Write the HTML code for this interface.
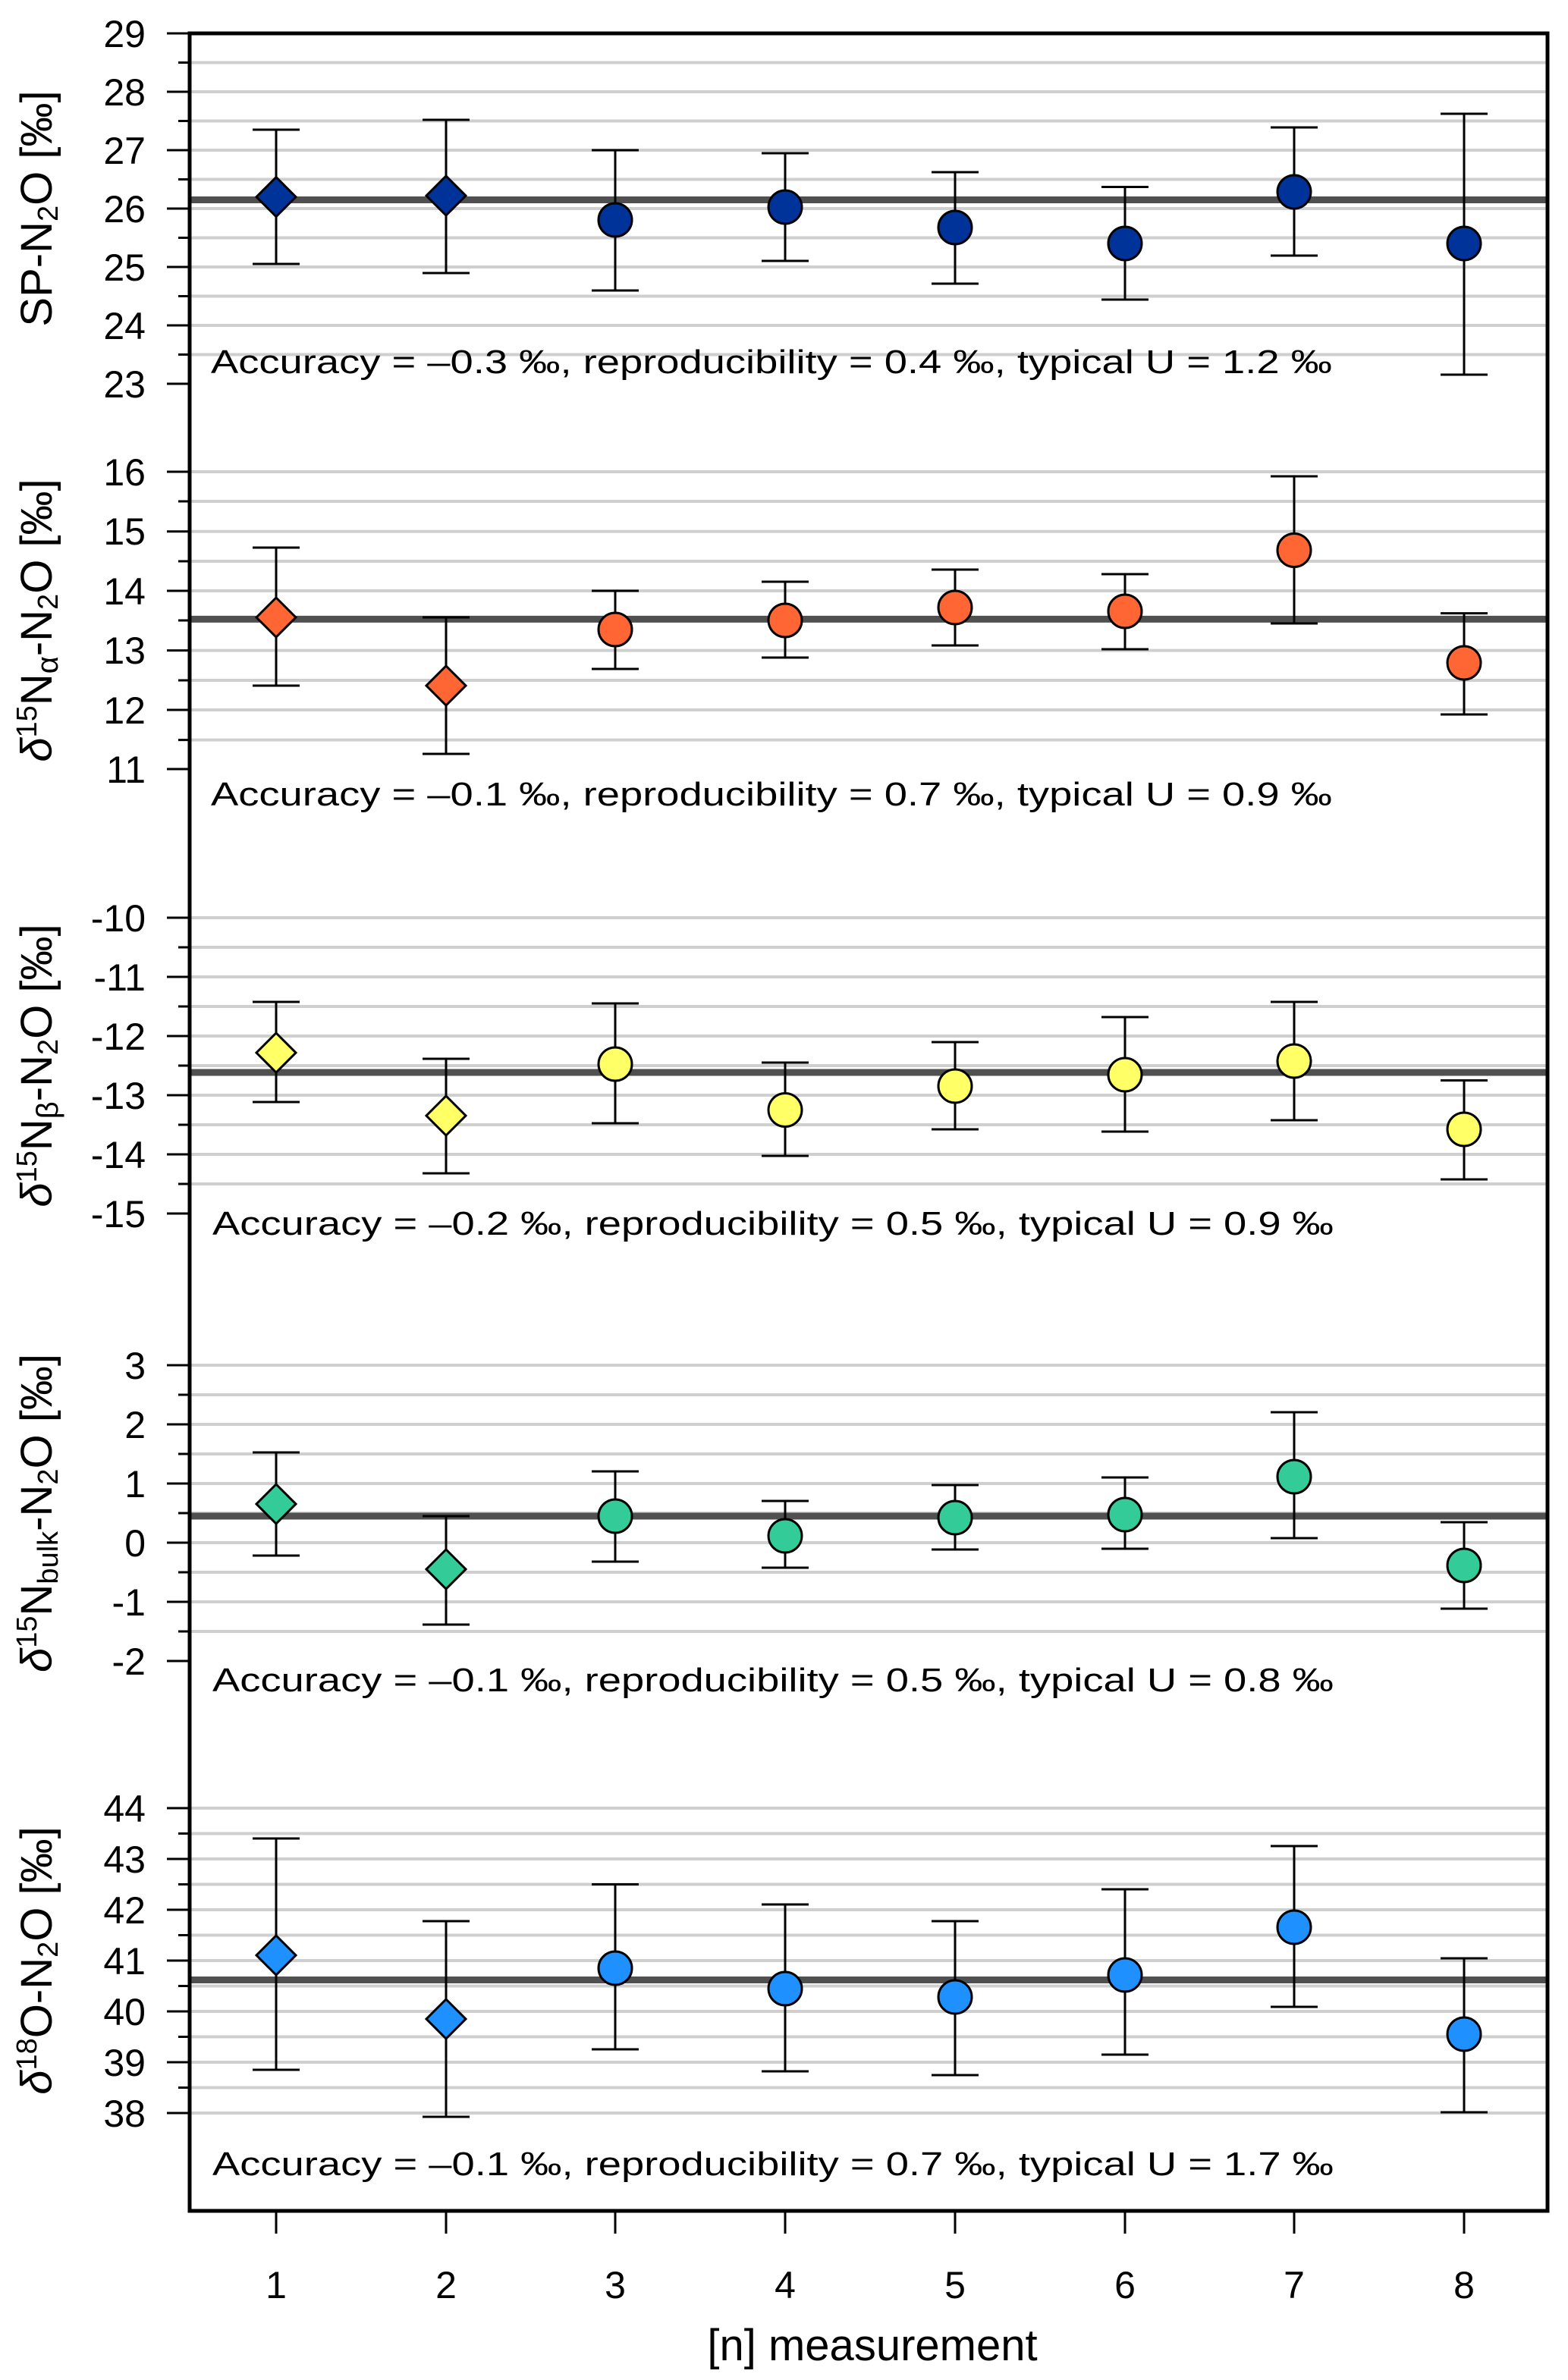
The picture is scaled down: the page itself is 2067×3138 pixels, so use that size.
<!DOCTYPE html>
<html><head><meta charset="utf-8"><style>
html,body{margin:0;padding:0;background:#fff}
svg{display:block}
text{font-family:"Liberation Sans",sans-serif;fill:#000}
.t{font-size:50px;text-anchor:end}
.x{font-size:50px;text-anchor:middle}
.a{font-size:44px}
.ti{font-size:58px;text-anchor:middle}
.g{stroke:#cfcfcf;stroke-width:4}
.m{stroke:#505050;stroke-width:9}
.e{stroke:#000;stroke-width:3;fill:none}
.k{stroke:#000;stroke-width:3}
</style></head><body>
<svg width="2067" height="3138" viewBox="0 0 2067 3138" xmlns="http://www.w3.org/2000/svg">
<g class="g">
<path d="M250 82.5H2040M250 121H2040M250 159.5H2040M250 198H2040M250 236.5H2040M250 275H2040M250 313.5H2040M250 352H2040M250 390.5H2040M250 429H2040M250 467.5H2040"/>
<path d="M250 622H2040M250 661H2040M250 700.8H2040M250 740H2040M250 779H2040M250 818H2040M250 857.6H2040M250 897H2040M250 936H2040M250 975.6H2040"/>
<path d="M250 1210H2040M250 1249H2040M250 1288H2040M250 1327H2040M250 1366H2040M250 1405H2040M250 1444H2040M250 1483H2040M250 1522H2040M250 1561H2040"/>
<path d="M250 1800H2040M250 1839H2040M250 1878H2040M250 1917H2040M250 1956H2040M250 1995H2040M250 2034H2040M250 2073H2040M250 2112H2040M250 2151H2040"/>
<path d="M250 2384H2040M250 2417.5H2040M250 2451H2040M250 2484.5H2040M250 2518H2040M250 2551.5H2040M250 2585H2040M250 2618.5H2040M250 2652H2040M250 2685.5H2040M250 2719H2040M250 2752.5H2040M250 2786H2040"/>
</g>
<g class="m">
<path d="M250 263.5H2040M250 816.4H2040M250 1414H2040M250 1999H2040M250 2610.5H2040"/>
</g>
<g class="k">
<path d="M220 44H250M235 82.5H250M220 121H250M235 159.5H250M220 198H250M235 236.5H250M220 275H250M235 313.5H250M220 352H250M235 390.5H250M220 429H250M235 467.5H250M220 506H250"/>
<path d="M220 622H250M235 661H250M220 700.8H250M235 740H250M220 779H250M235 818H250M220 857.6H250M235 897H250M220 936H250M235 975.6H250M220 1014H250"/>
<path d="M220 1210H250M235 1249H250M220 1288H250M235 1327H250M220 1366H250M235 1405H250M220 1444H250M235 1483H250M220 1522H250M235 1561H250M220 1600H250"/>
<path d="M220 1800H250M235 1839H250M220 1878H250M235 1917H250M220 1956H250M235 1995H250M220 2034H250M235 2073H250M220 2112H250M235 2151H250M220 2190H250"/>
<path d="M220 2384H250M235 2417.5H250M220 2451H250M235 2484.5H250M220 2518H250M235 2551.5H250M220 2585H250M235 2618.5H250M220 2652H250M235 2685.5H250M220 2719H250M235 2752.5H250M220 2786H250"/>
<path d="M364 2915V2945M588 2915V2945M811 2915V2945M1035 2915V2945M1259 2915V2945M1483 2915V2945M1706 2915V2945M1930 2915V2945"/>
</g>
<g class="e">
<path d="M364 171V348M333 171H395M333 348H395 M588 158V360M557 158H619M557 360H619 M811 198V383M780 198H842M780 383H842 M1035 202V344M1004 202H1066M1004 344H1066 M1259 227V374M1228 227H1290M1228 374H1290 M1483 246.5V395M1452 246.5H1514M1452 395H1514 M1706 168V337M1675 168H1737M1675 337H1737 M1930 150V494M1899 150H1961M1899 494H1961"/>
<path d="M364 722V904M333 722H395M333 904H395 M588 814V994M557 814H619M557 994H619 M811 779V882M780 779H842M780 882H842 M1035 767V867M1004 767H1066M1004 867H1066 M1259 751V851M1228 751H1290M1228 851H1290 M1483 757V856M1452 757H1514M1452 856H1514 M1706 628V822M1675 628H1737M1675 822H1737 M1930 808.6V942M1899 808.6H1961M1899 942H1961"/>
<path d="M364 1321V1453M333 1321H395M333 1453H395 M588 1396V1547M557 1396H619M557 1547H619 M811 1323V1481M780 1323H842M780 1481H842 M1035 1401V1524M1004 1401H1066M1004 1524H1066 M1259 1374V1489M1228 1374H1290M1228 1489H1290 M1483 1341V1492M1452 1341H1514M1452 1492H1514 M1706 1321V1477M1675 1321H1737M1675 1477H1737 M1930 1424.5V1555M1899 1424.5H1961M1899 1555H1961"/>
<path d="M364 1915V2051M333 1915H395M333 2051H395 M588 1999V2142M557 1999H619M557 2142H619 M811 1940V2059M780 1940H842M780 2059H842 M1035 1979V2067M1004 1979H1066M1004 2067H1066 M1259 1958V2043M1228 1958H1290M1228 2043H1290 M1483 1948V2042M1452 1948H1514M1452 2042H1514 M1706 1862V2028M1675 1862H1737M1675 2028H1737 M1930 2007V2121M1899 2007H1961M1899 2121H1961"/>
<path d="M364 2424V2729M333 2424H395M333 2729H395 M588 2533V2791M557 2533H619M557 2791H619 M811 2484.5V2702M780 2484.5H842M780 2702H842 M1035 2511V2731M1004 2511H1066M1004 2731H1066 M1259 2533V2736M1228 2533H1290M1228 2736H1290 M1483 2491V2709M1452 2491H1514M1452 2709H1514 M1706 2434V2646M1675 2434H1737M1675 2646H1737 M1930 2582V2785M1899 2582H1961M1899 2785H1961"/>
</g>
<g stroke="#000" stroke-width="3" fill="#003399">
<path d="M364 233.6L390 259.6L364 285.6L338 259.6Z"/>
<path d="M588 232L614 258L588 284L562 258Z"/>
<circle cx="811" cy="290" r="22"/><circle cx="1035" cy="273" r="22"/><circle cx="1259" cy="300" r="22"/><circle cx="1483" cy="321" r="22"/><circle cx="1706" cy="253" r="22"/><circle cx="1930" cy="321" r="22"/>
</g>
<g stroke="#000" stroke-width="3" fill="#ff6633">
<path d="M364 788L390 814L364 840L338 814Z"/>
<path d="M588 878L614 904L588 930L562 904Z"/>
<circle cx="811" cy="830" r="22"/><circle cx="1035" cy="818" r="22"/><circle cx="1259" cy="801" r="22"/><circle cx="1483" cy="806" r="22"/><circle cx="1706" cy="725.5" r="22"/><circle cx="1930" cy="874" r="22"/>
</g>
<g stroke="#000" stroke-width="3" fill="#ffff66">
<path d="M364 1362L390 1388L364 1414L338 1388Z"/>
<path d="M588 1445L614 1471L588 1497L562 1471Z"/>
<circle cx="811" cy="1403" r="22"/><circle cx="1035" cy="1463.5" r="22"/><circle cx="1259" cy="1432" r="22"/><circle cx="1483" cy="1417" r="22"/><circle cx="1706" cy="1399" r="22"/><circle cx="1930" cy="1489" r="22"/>
</g>
<g stroke="#000" stroke-width="3" fill="#33cc99">
<path d="M364 1957L390 1983L364 2009L338 1983Z"/>
<path d="M588 2043L614 2069L588 2095L562 2069Z"/>
<circle cx="811" cy="1999" r="22"/><circle cx="1035" cy="2025" r="22"/><circle cx="1259" cy="2001" r="22"/><circle cx="1483" cy="1997" r="22"/><circle cx="1706" cy="1947" r="22"/><circle cx="1930" cy="2064" r="22"/>
</g>
<g stroke="#000" stroke-width="3" fill="#1e90ff">
<path d="M364 2552L390 2578L364 2604L338 2578Z"/>
<path d="M588 2636L614 2662L588 2688L562 2662Z"/>
<circle cx="811" cy="2595" r="22"/><circle cx="1035" cy="2622" r="22"/><circle cx="1259" cy="2633" r="22"/><circle cx="1483" cy="2604" r="22"/><circle cx="1706" cy="2541" r="22"/><circle cx="1930" cy="2682" r="22"/>
</g>
<rect x="250" y="44" width="1790" height="2871" fill="none" stroke="#000" stroke-width="5"/>
<g class="t">
<text x="192" y="62">29</text><text x="192" y="139">28</text><text x="192" y="216">27</text><text x="192" y="293">26</text><text x="192" y="370">25</text><text x="192" y="447">24</text><text x="192" y="524">23</text>
<text x="192" y="640">16</text><text x="192" y="718">15</text><text x="192" y="797">14</text><text x="192" y="875">13</text><text x="192" y="954">12</text><text x="192" y="1032">11</text>
<text x="192" y="1228">-10</text><text x="192" y="1306">-11</text><text x="192" y="1384">-12</text><text x="192" y="1462">-13</text><text x="192" y="1540">-14</text><text x="192" y="1618">-15</text>
<text x="192" y="1818">3</text><text x="192" y="1896">2</text><text x="192" y="1974">1</text><text x="192" y="2052">0</text><text x="192" y="2130">-1</text><text x="192" y="2208">-2</text>
<text x="192" y="2402">44</text><text x="192" y="2469">43</text><text x="192" y="2536">42</text><text x="192" y="2603">41</text><text x="192" y="2670">40</text><text x="192" y="2737">39</text><text x="192" y="2804">38</text>
</g>
<g class="x">
<text x="364" y="3030">1</text><text x="588" y="3030">2</text><text x="811" y="3030">3</text><text x="1035" y="3030">4</text><text x="1259" y="3030">5</text><text x="1483" y="3030">6</text><text x="1706" y="3030">7</text><text x="1930" y="3030">8</text>
</g>
<text class="ti" x="1150" y="3112">[n] measurement</text>
<text class="ti" transform="translate(68 275) rotate(-90)">SP-N<tspan font-size="38" dy="8">2</tspan><tspan dy="-8">O [‰]</tspan></text>
<text class="ti" transform="translate(68 818) rotate(-90)"><tspan font-style="italic">δ</tspan><tspan font-size="38" dy="-20">15</tspan><tspan dy="20">N</tspan><tspan font-size="40" dy="8">α</tspan><tspan dy="-8">-N</tspan><tspan font-size="38" dy="8">2</tspan><tspan dy="-8">O [‰]</tspan></text>
<text class="ti" transform="translate(68 1405) rotate(-90)"><tspan font-style="italic">δ</tspan><tspan font-size="38" dy="-20">15</tspan><tspan dy="20">N</tspan><tspan font-size="40" dy="8">β</tspan><tspan dy="-8">-N</tspan><tspan font-size="38" dy="8">2</tspan><tspan dy="-8">O [‰]</tspan></text>
<text class="ti" transform="translate(68 1995) rotate(-90)"><tspan font-style="italic">δ</tspan><tspan font-size="38" dy="-20">15</tspan><tspan dy="20">N</tspan><tspan font-size="38" dy="8">bulk</tspan><tspan dy="-8">-N</tspan><tspan font-size="38" dy="8">2</tspan><tspan dy="-8">O [‰]</tspan></text>
<text class="ti" transform="translate(68 2585) rotate(-90)"><tspan font-style="italic">δ</tspan><tspan font-size="38" dy="-20">18</tspan><tspan dy="20">O-N</tspan><tspan font-size="38" dy="8">2</tspan><tspan dy="-8">O [‰]</tspan></text>
<g class="a">
<text x="278" y="492" textLength="1478" lengthAdjust="spacingAndGlyphs">Accuracy  =  –0.3 ‰, reproducibility  =  0.4 ‰, typical U  =  1.2 ‰</text>
<text x="278" y="1062" textLength="1478" lengthAdjust="spacingAndGlyphs">Accuracy  =  –0.1 ‰, reproducibility  =  0.7 ‰, typical U  =  0.9 ‰</text>
<text x="280" y="1628" textLength="1478" lengthAdjust="spacingAndGlyphs">Accuracy  =  –0.2 ‰, reproducibility  =  0.5 ‰, typical U  =  0.9 ‰</text>
<text x="280" y="2230" textLength="1478" lengthAdjust="spacingAndGlyphs">Accuracy  =  –0.1 ‰, reproducibility  =  0.5 ‰, typical U  =  0.8 ‰</text>
<text x="280" y="2868" textLength="1478" lengthAdjust="spacingAndGlyphs">Accuracy  =  –0.1 ‰, reproducibility  =  0.7 ‰, typical U  =  1.7 ‰</text>
</g>
</svg>
</body></html>
